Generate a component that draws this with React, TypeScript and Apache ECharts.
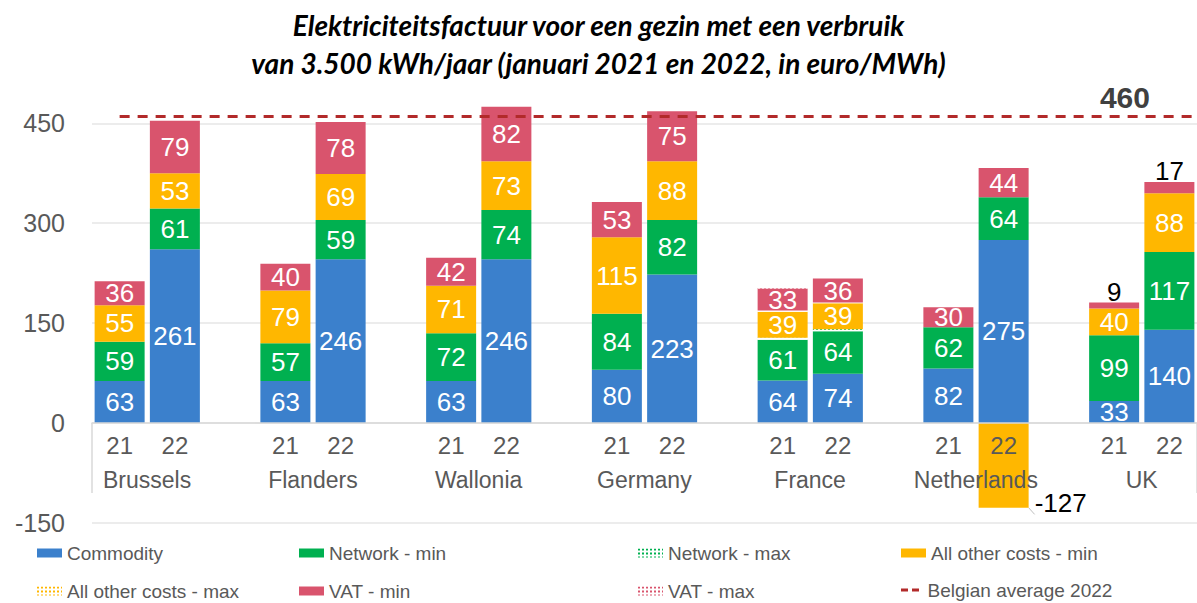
import React, { useEffect, useRef } from "react";
import * as echarts from "echarts";

const regions = ["Brussels", "Flanders", "Wallonia", "Germany", "France", "Netherlands", "UK"];
const years = ["21", "22"];
const yTicks = { min: -150, max: 500, interval: 150 };
const belgianAverage = 460;

// one value per bar: Brussels 21, 22, Flanders 21, 22, ...
const commodity = [63, 261, 63, 246, 63, 246, 80, 223, 64, 74, 82, 275, 33, 140];
const networkMin = [59, 61, 57, 59, 72, 74, 84, 82, 61, 64, 62, 64, 99, 117];
const networkMax = [null, null, null, null, null, null, null, null, 3, 3, null, null, null, null];
const otherMin = [55, 53, 79, 69, 71, 73, 115, 88, 39, 39, null, -127, 40, 88];
const otherMax = [null, null, null, null, null, null, null, null, 2, 1, null, null, null, null];
const vatMin = [36, 79, 40, 78, 42, 82, 53, 75, 33, 36, 30, 44, 9, 17];
const vatMax = [null, null, null, null, null, null, null, null, 2, null, null, null, null, null];

const C_BLUE = "#3b80cc";
const C_GREEN = "#00b050";
const C_YELLOW = "#ffb700";
const C_RED = "#d9546d";
const C_LINE = "#b22a2a";
const FONT = "Liberation Sans, Arial, sans-serif";

const cats: string[] = [];
regions.forEach((r, g) => {
  years.forEach((y) => cats.push(`${r}-${y}`));
  if (g < regions.length - 1) cats.push(`gap-${g}`);
});

function spread(arr: (number | null)[]): any[] {
  const out: any[] = [];
  let k = 0;
  cats.forEach((c) => {
    if (c.startsWith("gap")) out.push(null);
    else out.push(arr[k++]);
  });
  return out;
}

export default function App() {
  const ref = useRef<HTMLDivElement>(null);
  useEffect(() => {
    document.body.style.margin = "0";
    const chart = echarts.init(ref.current!, null, { renderer: "svg" });

    const inLabel = {
      show: true,
      position: "inside",
      color: "#ffffff",
      fontSize: 26,
      lineHeight: 22,
      fontFamily: FONT,
      formatter: (p: any) => (p.value == null ? "" : String(p.value)),
    };

    const otherData = spread(otherMin);
    const iNL22 = cats.indexOf("Netherlands-22");
    otherData[iNL22] = {
      value: otherData[iNL22],
      label: { position: "right", distance: 6, offset: [0, 38], color: "#000000" },
      labelLine: { show: true, lineStyle: { color: "#bfbfbf", width: 1 } },
    };
    const vatData = spread(vatMin);
    ["UK-21", "UK-22"].forEach((c) => {
      const i = cats.indexOf(c);
      vatData[i] = { value: vatData[i], label: { position: "top", distance: 0, color: "#000000" } };
    });

    const dotted = (color: string) => ({
      color: "#ffffff",
      decal: {
        symbol: "rect",
        symbolSize: 1,
        color,
        dashArrayX: [1.5, 1.5],
        dashArrayY: [1.5, 1.5],
        rotation: 0,
      },
    });

    const bar = (name: string, data: any[], itemStyle: any, label: any) => ({
      name,
      type: "bar",
      stack: "total",
      barWidth: 50,
      data,
      itemStyle,
      label,
      emphasis: { disabled: true },
    });

    const legendCommon = {
      orient: "vertical",
      top: 543,
      itemWidth: 25,
      itemHeight: 9,
      itemGap: 18,
      padding: 0,
      selectedMode: false,
      textStyle: { fontSize: 19, color: "#595959", fontFamily: FONT, lineHeight: 20 },
    };

    chart.setOption({
      animation: false,
      textStyle: { fontFamily: FONT },
      title: {
        text: "Elektriciteitsfactuur voor een gezin met een verbruik\nvan 3.500 kWh/jaar (januari 2021 en 2022, in euro/MWh)",
        left: "center",
        top: 1,
        textStyle: {
          fontFamily: "Lato",
          fontStyle: "italic",
          fontWeight: "bold",
          fontSize: 28,
          lineHeight: 38,
          color: "#000000",
        },
      },
      legend: [
        { ...legendCommon, left: 37, data: [{ name: "Commodity", icon: "rect" }, { name: "All other costs - max", icon: "rect" }] },
        { ...legendCommon, left: 299, data: [{ name: "Network - min", icon: "rect" }, { name: "VAT - min", icon: "rect" }] },
        { ...legendCommon, left: 638, data: [{ name: "Network - max", icon: "rect" }, { name: "VAT - max", icon: "rect" }] },
        { ...legendCommon, left: 901, data: [{ name: "All other costs - min", icon: "rect" }] },
        {
          ...legendCommon,
          left: 901,
          top: 580,
          itemHeight: 3,
          data: [{ name: "Belgian average 2022", icon: "path://M0 0H7V3H0Z M11 0H18V3H11Z" }],
        },
      ],
      grid: { left: 92, right: 0, top: 90, bottom: 80, containLabel: false },
      xAxis: {
        type: "category",
        data: cats,
        position: "bottom",
        z: 10,
        axisLine: { onZero: true, lineStyle: { color: "#d9d9d9", width: 1.5 } },
        axisTick: {
          show: true,
          interval: (i: number) => i === 0,
          length: 70,
          lineStyle: { color: "#d9d9d9", width: 1.5 },
        },
        axisLabel: {
          interval: 0,
          margin: -94,
          color: "#595959",
          formatter: (v: string) => {
            if (v.startsWith("gap")) return "";
            const [region, year] = v.split("-");
            return year === "21" ? `{y|${year}}\n{r|${region}}` : `{y|${year}}`;
          },
          rich: {
            y: { fontSize: 24, lineHeight: 32, color: "#595959", fontFamily: FONT },
            r: { fontSize: 23, lineHeight: 38, color: "#595959", padding: [0, 0, 0, 55], fontFamily: FONT },
          },
        },
      },
      yAxis: {
        type: "value",
        min: yTicks.min,
        max: yTicks.max,
        interval: yTicks.interval,
        axisLine: { show: false },
        axisTick: { show: false },
        axisLabel: { fontSize: 25, color: "#595959", margin: 27, showMaxLabel: false },
        splitLine: { show: true, showMaxLine: false, lineStyle: { color: "#e6e6e6", width: 1.5 } },
      },
      series: [
        bar("Commodity", spread(commodity), { color: C_BLUE }, inLabel),
        bar("Network - min", spread(networkMin), { color: C_GREEN }, inLabel),
        bar("Network - max", spread(networkMax), dotted(C_GREEN), { show: false }),
        bar("All other costs - min", otherData, { color: C_YELLOW }, inLabel),
        bar("All other costs - max", spread(otherMax), dotted(C_YELLOW), { show: false }),
        bar("VAT - min", vatData, { color: C_RED }, inLabel),
        bar("VAT - max", spread(vatMax), dotted(C_RED), { show: false }),
        {
          name: "Belgian average 2022",
          type: "line",
          data: [],
          symbol: "none",
          itemStyle: { color: C_LINE },
          lineStyle: { color: C_LINE, type: [7, 5], width: 3 },
          markLine: {
            silent: true,
            symbol: ["none", "none"],
            lineStyle: { color: C_LINE, type: [10, 8], width: 3 },
            label: {
              show: true,
              formatter: String(belgianAverage),
              position: "insideEndTop",
              distance: [47, 4],
              fontSize: 30,
              fontWeight: "bold",
              color: "#404040",
              fontFamily: FONT,
            },
            data: [[{ yAxis: belgianAverage, xAxis: 0 }, { yAxis: belgianAverage, x: "100%" }]],
          },
        },
      ],
    });
    return () => chart.dispose();
  }, []);
  return <div ref={ref} style={{ width: 1197, height: 603 }} />;
}
